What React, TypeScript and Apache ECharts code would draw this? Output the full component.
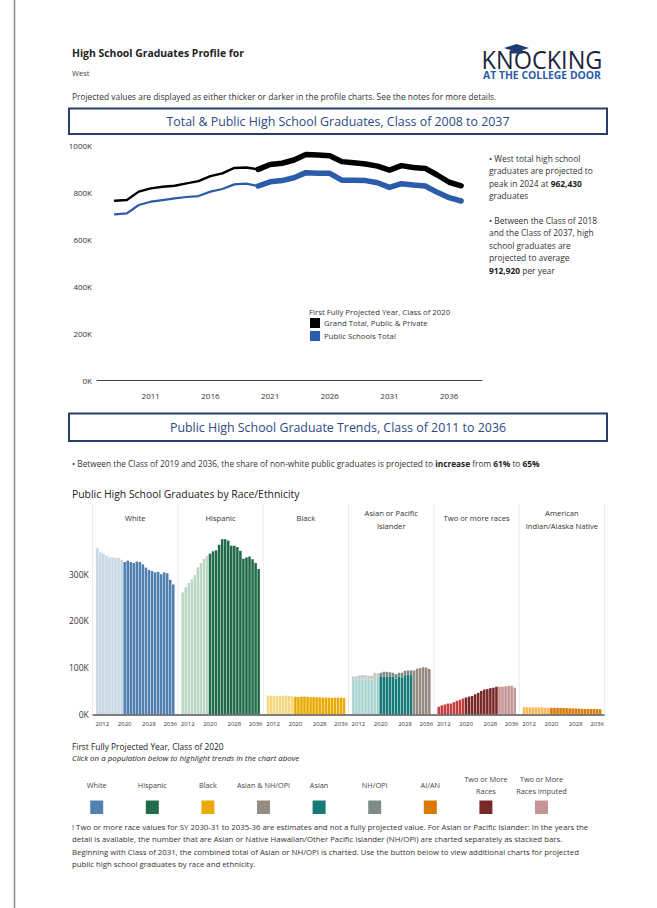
import { useEffect, useRef } from 'react';
import * as echarts from 'echarts';

// ---------- DATA ----------
const lineYears = [2008, 2009, 2010, 2011, 2012, 2013, 2014, 2015, 2016, 2017, 2018, 2019, 2020, 2021, 2022, 2023, 2024, 2025, 2026, 2027, 2028, 2029, 2030, 2031, 2032, 2033, 2034, 2035, 2036, 2037];
const grandTotal = [765000, 768000, 804000, 818000, 825000, 829000, 839000, 849000, 870000, 882000, 905000, 907000, 899000, 920000, 925000, 939000, 962430, 960000, 957000, 932000, 927000, 922000, 913000, 896000, 915000, 907000, 903000, 875000, 844000, 829000];
const publicTotal = [707000, 711000, 747000, 761000, 768000, 775000, 781000, 785000, 804000, 815000, 835000, 838000, 828000, 846000, 851000, 863000, 885000, 882000, 882000, 853000, 853000, 851000, 842000, 822000, 838000, 832000, 828000, 801000, 778000, 764000];
const firstProjectedYear = 2020;
const lineTickYears = [2011, 2016, 2021, 2026, 2031, 2036];

const barYears = [2011, 2012, 2013, 2014, 2015, 2016, 2017, 2018, 2019, 2020, 2021, 2022, 2023, 2024, 2025, 2026, 2027, 2028, 2029, 2030, 2031, 2032, 2033, 2034, 2035, 2036];
const whiteGrads = [356000, 347000, 344000, 340000, 336000, 336000, 335000, 335000, 331000, 326000, 329000, 326000, 324000, 327000, 326000, 321000, 314000, 309000, 307000, 304000, 305000, 300000, 304000, 302000, 288000, 278000];
const hispanicGrads = [261000, 272000, 281000, 289000, 298000, 315000, 324000, 333000, 339000, 344000, 349000, 351000, 363000, 375000, 375000, 372000, 361000, 361000, 358000, 350000, 333000, 336000, 338000, 332000, 324000, 311000];
const blackGrads = [40200, 39800, 39500, 39600, 39400, 39700, 40200, 39500, 38600, 37600, 37000, 37800, 37900, 37500, 36800, 37000, 36500, 36400, 35800, 35500, 35800, 35200, 35500, 35600, 35800, 34800];
const asianGrads = [73000, 74000, 74000, 74500, 74500, 75000, 75000, 75500, 76000, 80000, 81000, 80000, 81000, 81000, 76000, 80000, 79000, 82000, 84000, 84000, null, null, null, null, null, null];
const nhopiGrads = [8000, 7500, 9500, 9500, 9500, 7000, 8000, 13500, 12000, 9000, 10000, 11000, 9000, 8000, 10000, 9000, 10000, 11000, 10000, 10000, null, null, null, null, null, null];
const asianNhopiCombined = [null, null, null, null, null, null, null, null, null, null, null, null, null, null, null, null, null, null, null, null, 94000, 98000, 99000, 101000, 100000, 97000];
const twoOrMoreGrads = [16000, 19000, 21000, 23000, 23000, 26000, 29000, 31000, 34000, 36000, 38000, 39000, 43000, 46000, 50000, 53000, 54000, 56000, 57000, 59000, 59000, 59000, 60000, 61000, 61000, 57000];
const twoOrMoreImputedFrom = 2031;
const aianGrads = [15500, 15200, 15000, 14800, 14600, 14800, 14500, 14200, 14000, 13800, 13600, 13800, 13500, 13400, 13200, 13000, 12600, 12500, 12200, 11800, 11600, 11500, 11300, 11400, 11200, 10800];
const barTicks = [0, 100000, 200000, 300000];

const panelTitles = [['White'], ['Hispanic'], ['Black'], ['Asian or Pacific', 'Islander'], ['Two or more races'], ['American', 'Indian/Alaska Native']];
const legendLabels = [['White'], ['Hispanic'], ['Black'], ['Asian & NH/OPI'], ['Asian'], ['NH/OPI'], ['AI/AN'], ['Two or More', 'Races'], ['Two or More', 'Races Imputed']];
const legendColors = ['#5181b0', '#206c4a', '#e9ab03', '#968d82', '#167b78', '#7f8b89', '#d97906', '#7a2828', '#c39595'];

// ---------- STYLE HELPERS ----------
const FONT = '"Open Sans", "Noto Sans", sans-serif';
const NAVY = '#2b3d6b';

function txt(text: string, x: number, y: number, size: number, extra: any = {}) {
  return {
    type: 'text',
    x,
    y,
    scaleY: extra.scaleY || 1,
    silent: true,
    style: {
      text,
      fill: extra.fill || '#333',
      fontSize: size,
      fontFamily: FONT,
      fontWeight: extra.fontWeight || 'normal',
      fontStyle: extra.fontStyle || 'normal',
      align: extra.align || 'left',
      verticalAlign: 'middle',
      rich: extra.rich,
    },
    z: 10,
  };
}

export default function App() {
  const ref = useRef<HTMLDivElement>(null);

  useEffect(() => {
    const chart = echarts.init(ref.current!, null, { renderer: 'svg' });
    const projIdxLine = lineYears.indexOf(firstProjectedYear);
    const projIdxBar = barYears.indexOf(firstProjectedYear);
    const imputedIdx = barYears.indexOf(twoOrMoreImputedFrom);

    const pairs = (vals: number[], from: number, to: number) =>
      lineYears.slice(from, to + 1).map((yr, i) => [yr, vals[from + i]]);

    const lineSeries: any[] = [
      { data: pairs(grandTotal, 0, projIdxLine), color: '#000', w: 2.4 },
      { data: pairs(grandTotal, projIdxLine, lineYears.length - 1), color: '#000', w: 5.5 },
      { data: pairs(publicTotal, 0, projIdxLine), color: '#2a5caa', w: 2.2 },
      { data: pairs(publicTotal, projIdxLine, lineYears.length - 1), color: '#2a5caa', w: 5.5 },
    ].map((s) => ({
      type: 'line',
      xAxisIndex: 0,
      yAxisIndex: 0,
      data: s.data,
      symbol: 'none',
      lineStyle: { color: s.color, width: s.w, cap: 'round', join: 'round' },
      itemStyle: { color: s.color },
      silent: true,
    }));

    // panels
    const panelLeft0 = 92.5;
    const panelW = 85.35;
    const gridTop = 527.5;
    const gridH = 186.8;
    const grids: any[] = [{ left: 97, top: 145.7, width: 385, height: 234.3 }];
    const xAxes: any[] = [
      {
        type: 'value',
        gridIndex: 0,
        min: 2006.5,
        max: 2038.75,
        offset: 4,
        axisLine: { show: true, lineStyle: { color: '#444', width: 1 } },
        axisTick: { show: false },
        splitLine: { show: false },
        axisLabel: { customValues: lineTickYears, color: '#333', fontSize: 8, fontFamily: FONT, margin: 7, formatter: (v: number) => String(v) },
      },
    ];
    const yAxes: any[] = [
      {
        type: 'value',
        gridIndex: 0,
        min: 0,
        max: 1000000,
        interval: 200000,
        axisLine: { show: false },
        axisTick: { show: false },
        splitLine: { show: false },
        axisLabel: { color: '#333', fontSize: 8, fontFamily: FONT, margin: 5, formatter: (v: number) => v / 1000 + 'K' },
      },
    ];
    for (let k = 0; k < 6; k++) {
      grids.push({ left: panelLeft0 + k * panelW + 3.3, top: gridTop, width: 79, height: gridH });
      xAxes.push({
        type: 'category',
        gridIndex: k + 1,
        data: barYears.map(String),
        axisLine: { show: false },
        axisTick: { show: false },
        axisLabel: {
          interval: (i: number) => i % 8 === 1,
          color: '#333',
          fontSize: 6,
          fontFamily: FONT,
          margin: 7,
          hideOverlap: false,
          formatter: (v: string, i: number) => (i === 1 ? '{f|' + v + '}' : i === barYears.length - 1 ? '{l|' + v + '}' : '{m|' + v + '}'),
          rich: {
            f: { fontSize: 6, fontFamily: FONT, color: '#333', padding: [0, 0, 0, 4] },
            l: { fontSize: 6, fontFamily: FONT, color: '#333', padding: [0, 6, 0, 0] },
            m: { fontSize: 6, fontFamily: FONT, color: '#333' },
          },
        },
      });
      yAxes.push({
        type: 'value',
        gridIndex: k + 1,
        min: 0,
        max: 400000,
        interval: 100000,
        axisLine: { show: false },
        axisTick: { show: false },
        splitLine: { show: false },
        axisLabel: k === 0
          ? { customValues: barTicks, color: '#333', fontSize: 8.5, fontFamily: FONT, margin: 7, formatter: (v: number) => v / 1000 + 'K' }
          : { show: false },
      });
    }

    const colored = (vals: (number | null)[], colorFn: (i: number) => string) =>
      vals.map((v, i) => (v == null ? '-' : { value: v, itemStyle: { color: colorFn(i) } }));
    const lightDark = (light: string, dark: string) => (i: number) => (i < projIdxBar ? light : dark);

    const bar = (k: number, data: any[], extra: any = {}) => ({
      type: 'bar',
      xAxisIndex: k + 1,
      yAxisIndex: k + 1,
      data,
      barCategoryGap: '16%',
      silent: true,
      ...extra,
    });

    const barSeries = [
      bar(0, colored(whiteGrads, lightDark('#c7d6e5', '#5181b0'))),
      bar(1, colored(hispanicGrads, lightDark('#bdd7c6', '#206c4a'))),
      bar(2, colored(blackGrads, lightDark('#f7d87e', '#e9ab03'))),
      bar(3, colored(asianGrads, lightDark('#a9d4d1', '#167b78')), { stack: 'api' }),
      bar(3, colored(nhopiGrads, lightDark('#c4cac9', '#7f8b89')), { stack: 'api' }),
      bar(3, colored(asianNhopiCombined, () => '#968d82'), { stack: 'api' }),
      bar(4, colored(twoOrMoreGrads, (i) => (i < projIdxBar ? '#c63d3d' : i < imputedIdx ? '#7a2828' : '#c39595'))),
      bar(5, colored(aianGrads, lightDark('#fbb85a', '#d97906'))),
    ];

    const graphics: any[] = [];
    // left page border
    graphics.push({ type: 'line', shape: { x1: 14.5, y1: 0, x2: 14.5, y2: 908 }, style: { stroke: '#8a8a8a', lineWidth: 1.5 }, silent: true });

    // header
    graphics.push(txt('High School Graduates Profile for', 72, 53, 10.4, { fontWeight: 'bold', fill: '#222' }));
    graphics.push(txt('West', 72, 73, 7.5, { fill: '#444' }));
    graphics.push(txt('Projected values are displayed as either thicker or darker in the profile charts. See the notes for more details.', 72, 96, 8.4, { fill: '#333' }));

    // logo
    graphics.push(txt('KNOCKING', 542, 58.5, 23.5, { align: 'center', fill: '#1d2540', scaleY: 1.12 }));
    graphics.push({ type: 'polygon', shape: { points: [[516.5, 44], [529, 48], [516.5, 52], [504, 48]] }, style: { fill: '#1f3c72' }, z: 11, silent: true });
    graphics.push({ type: 'polygon', shape: { points: [[510.5, 49.5], [522.5, 49.5], [522.5, 53.5], [510.5, 53.5]] }, style: { fill: '#1f3c72' }, z: 11, silent: true });
    graphics.push(txt('AT THE COLLEGE DOOR', 542, 74.5, 10.4, { align: 'center', fontWeight: 'bold', fill: '#2a5ba7' }));

    // title boxes
    const box = (y: number, h: number, title: string) => {
      graphics.push({ type: 'rect', shape: { x: 69, y, width: 538, height: h }, style: { fill: 'none', stroke: NAVY, lineWidth: 2 }, silent: true });
      graphics.push(txt(title, 338, y + h / 2, 12.4, { align: 'center', fill: '#2c4a82' }));
    };
    box(108.5, 25.5, 'Total & Public High School Graduates, Class of 2008 to 2037');
    box(413.5, 27.5, 'Public High School Graduate Trends, Class of 2011 to 2036');

    // right text
    const rich = { n: { fontSize: 8.4, fontFamily: FONT, fill: '#333' }, b: { fontSize: 8.4, fontFamily: FONT, fontWeight: 'bold', fill: '#222' } };
    const rightLines = [
      [158, '{n|• West total high school}'],
      [170.5, '{n|graduates are projected to}'],
      [183, '{n|peak in 2024 at }{b|962,430}'],
      [195.5, '{n|graduates}'],
      [220, '{n|• Between the Class of 2018}'],
      [232.5, '{n|and the Class of 2037, high}'],
      [245, '{n|school graduates are}'],
      [257.5, '{n|projected to average}'],
      [270, '{b|912,920}{n| per year}'],
    ];
    rightLines.forEach(([y, t]) => graphics.push(txt(t as string, 489, y as number, 8.4, { rich })));

    // line legend
    graphics.push(txt('First Fully Projected Year, Class of 2020', 309, 312, 7.8, { fill: '#333' }));
    graphics.push({ type: 'rect', shape: { x: 310, y: 318, width: 10, height: 10 }, style: { fill: '#000' }, silent: true });
    graphics.push(txt('Grand Total, Public & Private', 324, 323, 7.8, { fill: '#333' }));
    graphics.push({ type: 'rect', shape: { x: 310, y: 331, width: 10, height: 10 }, style: { fill: '#2a5caa' }, silent: true });
    graphics.push(txt('Public Schools Total', 324, 336, 7.8, { fill: '#333' }));

    // middle text
    const rich2 = { n: { fontSize: 8.3, fontFamily: FONT, fill: '#333' }, b: { fontSize: 8.3, fontFamily: FONT, fontWeight: 'bold', fill: '#222' } };
    graphics.push(txt('{n|• Between the Class of 2019 and 2036, the share of non-white public graduates is projected to }{b|increase}{n| from }{b|61%}{n| to }{b|65%}', 72, 463, 8.3, { rich: rich2 }));
    graphics.push(txt('Public High School Graduates by Race/Ethnicity', 72, 494, 10.4, { fill: '#222' }));

    // panel separators and headers
    for (let k = 0; k <= 6; k++) {
      const x = panelLeft0 + k * panelW;
      graphics.push({ type: 'line', shape: { x1: x, y1: 504, x2: x, y2: 714 }, style: { stroke: '#ececec', lineWidth: 1 }, silent: true });
    }
    panelTitles.forEach((lines, k) => {
      const cx = panelLeft0 + k * panelW + panelW / 2;
      if (lines.length === 1) graphics.push(txt(lines[0], cx, 518, 7.6, { align: 'center' }));
      else {
        graphics.push(txt(lines[0], cx, 513, 7.6, { align: 'center' }));
        graphics.push(txt(lines[1], cx, 525.5, 7.6, { align: 'center' }));
      }
    });
    graphics.push({ type: 'line', shape: { x1: panelLeft0, y1: 715, x2: panelLeft0 + 6 * panelW, y2: 715 }, style: { stroke: '#555', lineWidth: 1.5 }, z: 12, silent: true });

    // bottom legend
    graphics.push(txt('First Fully Projected Year, Class of 2020', 72, 746, 8.4, { fill: '#222' }));
    graphics.push(txt('Click on a population below to highlight trends in the chart above', 72, 758, 7.9, { fill: '#222', fontStyle: 'italic' }));
    legendLabels.forEach((lines, i) => {
      const cx = 96.7 + i * 55.6;
      if (lines.length === 1) graphics.push(txt(lines[0], cx, 785, 7.3, { align: 'center', fill: '#444' }));
      else {
        graphics.push(txt(lines[0], cx, 779, 7.3, { align: 'center', fill: '#444' }));
        graphics.push(txt(lines[1], cx, 790.5, 7.3, { align: 'center', fill: '#444' }));
      }
      graphics.push({ type: 'rect', shape: { x: cx - 6.5, y: 800.5, width: 13, height: 13.5 }, style: { fill: legendColors[i] }, silent: true });
    });

    // footnote
    const foot = [
      '! Two or more race values for SY 2030-31 to 2035-36 are estimates and not a fully projected value. For Asian or Pacific Islander: In the years the',
      'detail is available, the number that are Asian or Native Hawaiian/Other Pacific Islander (NH/OPI) are charted separately as stacked bars.',
      'Beginning with Class of 2031, the combined total of Asian or NH/OPI is charted. Use the button below to view additional charts for projected',
      'public high school graduates by race and ethnicity.',
    ];
    foot.forEach((l, i) => graphics.push(txt(l, 72, 827 + i * 12.4, 7.8, { fill: '#333' })));

    chart.setOption({
      animation: false,
      backgroundColor: '#fff',
      grid: grids,
      xAxis: xAxes,
      yAxis: yAxes,
      series: [...lineSeries, ...barSeries],
      graphic: graphics,
    });
    return () => chart.dispose();
  }, []);

  return <div ref={ref} style={{ position: 'fixed', left: 0, top: 0, width: 657, height: 908, background: '#fff' }} />;
}
